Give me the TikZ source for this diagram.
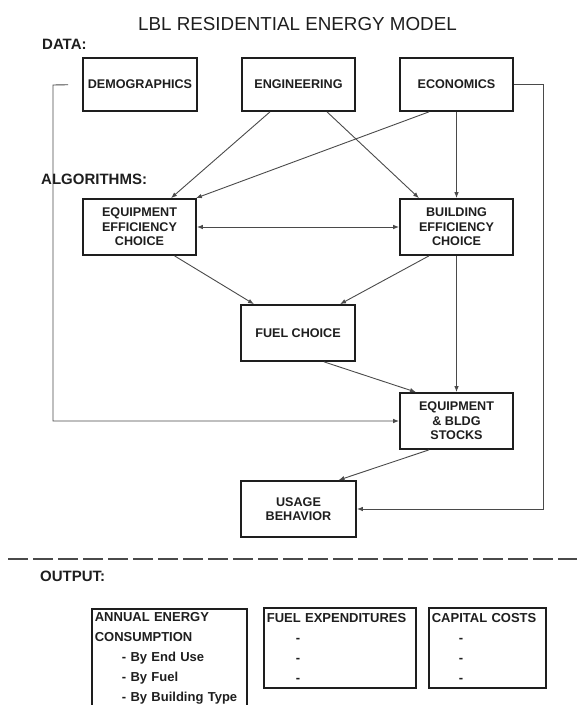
\documentclass[tikz,border=0pt]{standalone}
\usepackage{fontspec}
\setmainfont{Liberation Sans}
\usetikzlibrary{arrows.meta,calc}
\definecolor{ink}{HTML}{1E1E1E}
\definecolor{wire}{HTML}{4A4A4A}
\begin{document}
\begin{tikzpicture}[x=1bp,y=-1bp,
  box/.style={draw=ink, line width=1.7bp, rectangle, inner sep=0pt, minimum width=113bp, minimum height=56bp, align=center, font=\bfseries\fontsize{12.6bp}{14.5bp}\selectfont, text=ink},
  databox/.style={box, minimum height=53bp},
  conn/.style={draw=wire, line width=0.9bp, -{Latex[length=6bp,width=4.5bp]}},
  lbl/.style={anchor=west, inner sep=0pt, font=\bfseries\fontsize{15bp}{18bp}\selectfont, text=ink},
  outbox/.style={draw=ink, line width=1.7bp, rectangle, anchor=north west, align=left, inner xsep=3bp, inner ysep=4bp, font=\bfseries\fontsize{13bp}{20bp}\selectfont, text=ink}
]
\useasboundingbox (0,0) rectangle (577,705);

% title and section labels
\node[inner sep=0pt, font=\fontsize{18.8bp}{22bp}\selectfont, text=ink] (title) at (297.5,24) {LBL RESIDENTIAL ENERGY MODEL};
\node[lbl] (ldata) at (42,44) {DATA:};
\node[lbl] (lalgo) at (41,179) {ALGORITHMS:};
\node[lbl] (lout) at (40,576) {OUTPUT:};

% data boxes
\node[databox, minimum width=114bp] (demo) at (140,84.5) {DEMOGRAPHICS};
\node[databox] (eng) at (298.5,84.5) {ENGINEERING};
\node[databox] (econ) at (456.5,84.5) {ECONOMICS};

% algorithm boxes
\node[box] (equip) at (139.5,227) {EQUIPMENT\\EFFICIENCY\\CHOICE};
\node[box] (build) at (456.5,227) {BUILDING\\EFFICIENCY\\CHOICE};
\node[box, minimum width=114bp] (fuel) at (298,333) {FUEL CHOICE};
\node[box] (stocks) at (456.5,421) {EQUIPMENT\\\& BLDG\\STOCKS};
\node[box, minimum width=115bp] (usage) at (298.5,509) {USAGE\\BEHAVIOR};

% connectors
\draw[conn] ([xshift=-28.5bp]eng.south) -- ([xshift=31.5bp]equip.north);
\draw[conn] ([xshift=-27.5bp]econ.south) -- ([xshift=-1bp]equip.north east);
\draw[conn] ([xshift=28.5bp]eng.south) -- ([xshift=-37.5bp]build.north);
\draw[conn] (econ.south) -- (build.north);
\draw[draw=wire, line width=0.9bp, {Latex[length=6bp,width=4.5bp]}-{Latex[length=6bp,width=4.5bp]}] (equip.east) -- (build.west);
\draw[conn] ([xshift=35bp]equip.south) -- ([xshift=-44bp]fuel.north);
\draw[conn] ([xshift=-27.5bp]build.south) -- ([xshift=42bp]fuel.north);
\draw[conn] (build.south) -- (stocks.north);
\draw[conn] ([xshift=26bp]fuel.south) -- ([xshift=-40.5bp]stocks.north);
\draw[conn] ([xshift=-27.5bp]stocks.south) -- ([xshift=40bp]usage.north);

% feedback lines
\coordinate (lc1) at (53,85);
\coordinate (lc2) at (53,421);
\draw[conn, shorten <=14bp] (demo.west) -- (lc1) -- (lc2) -- (stocks.west);
\coordinate (rc1) at (543,84.5);
\coordinate (rc2) at (543,509);
\draw[conn] (econ.east) -- (rc1) -- (rc2) -- (usage.east);

% separator
\coordinate (dl) at (8,559);
\coordinate (dr) at (577,559);
\draw[draw=wire, line width=1.3bp, dash pattern=on 20bp off 5bp] (dl) -- (dr);

% output boxes
\node[outbox, text width=149bp] (annual) at (91,608) {ANNUAL ENERGY\\CONSUMPTION\\\hspace*{27bp}- By End Use\\\hspace*{27bp}- By Fuel\\\hspace*{27bp}- By Building Type};
\node[outbox, text width=146bp, minimum height=80bp] (fexp) at (263,607) {FUEL EXPENDITURES\\\hspace*{29bp}-\\\hspace*{29bp}-\\\hspace*{29bp}-};
\node[outbox, text width=111bp, minimum height=80bp] (cap) at (428,607) {CAPITAL COSTS\\\hspace*{27bp}-\\\hspace*{27bp}-\\\hspace*{27bp}-};
\end{tikzpicture}
\end{document}
